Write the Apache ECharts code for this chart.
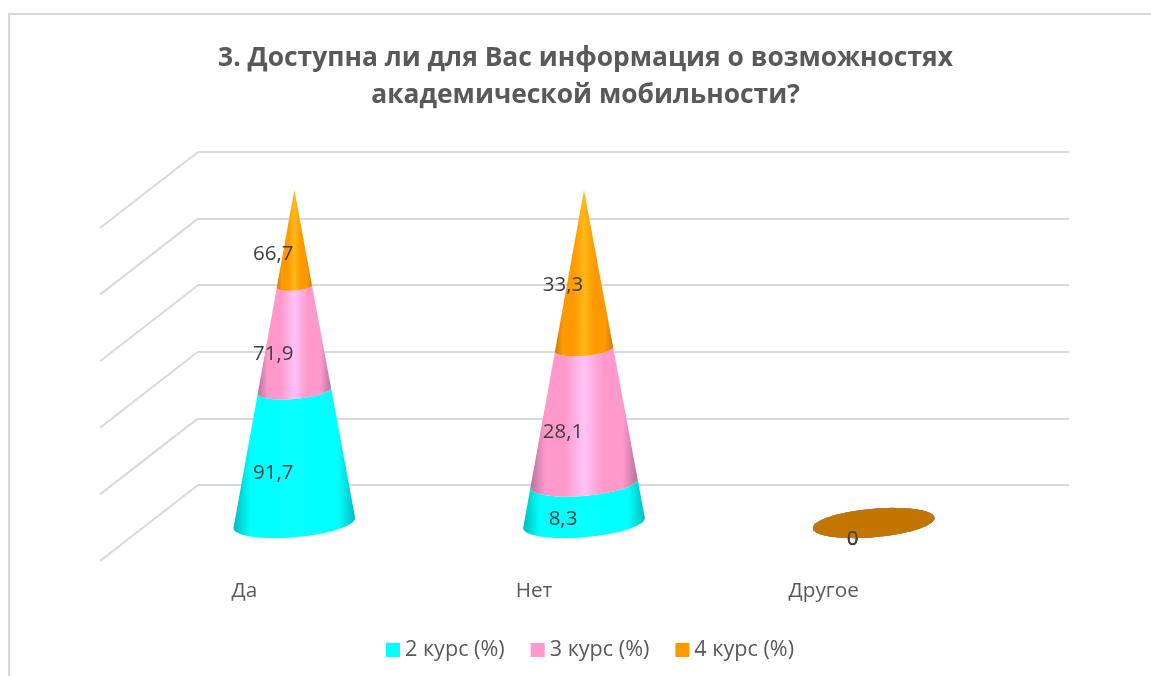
<!DOCTYPE html>
<html lang="ru">

<head>
  <meta charset="UTF-8">
  <title>Доступность информации</title>
  <script src="https://cdn.jsdelivr.net/npm/echarts@6/dist/echarts.min.js"></script>
  <style>
    html, body { margin: 0; padding: 0; background: #fff; }
    #chart { width: 1151px; height: 676px; }
  </style>
</head>

<body>
  <div id="chart"></div>
  <script>
    var categories = ['Да', 'Нет', 'Другое']
    var course2 = [91.7, 8.3, 0]
    var course3 = [71.9, 28.1, 0]
    var course4 = [66.7, 33.3, 0]
    var seriesNames = ['2 курс (%)', '3 курс (%)', '4 курс (%)']
    var yTicks = [0, 20, 40, 60, 80, 100]

    var fontName = '"Open Sans", "Noto Sans", sans-serif'
    var gridColor = '#d9d9d9'
    // base, edge, highlight, flat disc
    var palette = [
      ['#00ffff', '#00bcbc', '#0affff', '#00b8b8'],
      ['#ff99cc', '#b8729a', '#ffc2f4', '#b86d92'],
      ['#ff9900', '#cc7f00', '#ffb818', '#c27500']
    ]
    var rows = [course2, course3, course4]

    // 100% stacked, each cone piece runs from start to end percent
    function stackedData(s) {
      return categories.map(function (c, i) {
        var total = course2[i] + course3[i] + course4[i]
        var before = 0
        for (var k = 0; k < s; k++) before += rows[k][i]
        var start = total ? before / total * 100 : 0
        var end = total ? (before + rows[s][i]) / total * 100 : 0
        return [i, start, end, rows[s][i]]
      })
    }

    // front half of the tilted ring at a given height
    function frontArc(cx, cy, a, reverse) {
      var pts = []
      var n = 40
      for (var j = 0; j <= n; j++) {
        var t = Math.PI * (reverse ? j / n : 1 - j / n)
        pts.push([cx + a * Math.cos(t), cy - 0.082 * a * Math.cos(t) + a * 0.235 * Math.sin(t)])
      }
      return pts
    }

    function coneItem(s) {
      return function (params, api) {
        var i = api.value(0)
        var start = api.value(1)
        var end = api.value(2)
        var raw = api.value(3)
        var bottom = api.coord([i, 0])
        var low = api.coord([i, start])
        var high = api.coord([i, end])
        var mid = api.coord([i, (start + end) / 2])
        var radius = api.size([1, 0])[0] * 0.21
        var c = palette[s]
        var shape
        if (start === end) {
          // zero values collapse into a flat disc on the floor
          var top = frontArc(bottom[0], bottom[1], radius, false)
          var under = top.map(function (p) {
            return [2 * bottom[0] - p[0], 2 * bottom[1] - p[1]]
          })
          shape = {
            type: 'polygon',
            shape: { points: top.concat(under) },
            style: { fill: c[3] }
          }
        } else {
          var pts = frontArc(low[0], low[1], radius * (1 - start / 100), false)
          pts = pts.concat(frontArc(high[0], high[1], radius * (1 - end / 100), true))
          shape = {
            type: 'polygon',
            shape: { points: pts },
            style: {
              fill: new echarts.graphic.LinearGradient(0, 0, 1, 0, [
                { offset: 0, color: c[1] },
                { offset: 0.14, color: c[0] },
                { offset: 0.32, color: c[0] },
                { offset: 0.5, color: c[2] },
                { offset: 0.68, color: c[0] },
                { offset: 0.86, color: c[0] },
                { offset: 1, color: c[1] }
              ])
            }
          }
        }
        return {
          type: 'group',
          children: [shape, {
            type: 'text',
            z2: 10,
            style: {
              x: mid[0] - 21,
              y: mid[1] + 16,
              text: String(raw).replace('.', ','),
              fill: '#404040',
              font: '20.5px ' + fontName,
              align: 'center',
              verticalAlign: 'middle'
            }
          }]
        }
      }
    }

    var mCharts = echarts.init(document.getElementById('chart'))
    var series = seriesNames.map(function (name, s) {
      return {
        name: name,
        type: 'custom',
        xAxisIndex: 1,
        yAxisIndex: 1,
        z: 5 + s,
        itemStyle: { color: palette[s][0] },
        renderItem: coneItem(s),
        encode: { x: 0, y: [1, 2] },
        data: stackedData(s)
      }
    })
    // side wall lines, one from each tick of the back wall
    series.unshift({
      name: 'wall',
      type: 'custom',
      xAxisIndex: 0,
      yAxisIndex: 0,
      z: 1,
      renderItem: function (params, api) {
        var p = api.coord([0, api.value(0)])
        var x = params.coordSys.x
        return {
          type: 'line',
          shape: { x1: x, y1: p[1], x2: x - 98, y2: p[1] + 76 },
          style: { stroke: gridColor, lineWidth: 2 }
        }
      },
      encode: { y: 0 },
      data: yTicks.map(function (t) { return [t] })
    })

    var option = {
      animation: false,
      title: {
        text: '3. Доступна ли для Вас информация о возможностях\nакадемической мобильности?',
        left: 580.5,
        top: 35,
        textAlign: 'center',
        textStyle: {
          color: '#595959',
          fontSize: 26.4,
          fontWeight: 'bold',
          fontFamily: fontName,
          lineHeight: 37
        }
      },
      legend: {
        data: seriesNames,
        left: 381,
        top: 634,
        icon: 'rect',
        itemWidth: 14,
        itemHeight: 14,
        itemGap: 26,
        textStyle: { color: '#595959', fontSize: 21.6, fontFamily: fontName }
      },
      // back wall, plane through the cones, front edge of the floor
      grid: [
        { left: 198, width: 871, top: 152, height: 333 },
        { left: 149.5, width: 869, top: 190, height: 333 },
        { left: 99.5, width: 869, top: 228, height: 333 }
      ],
      xAxis: [
        { gridIndex: 0, type: 'category', data: categories, show: false },
        { gridIndex: 1, type: 'category', data: categories, show: false },
        {
          gridIndex: 2,
          type: 'category',
          data: categories,
          axisLine: { show: false },
          axisTick: { show: false },
          axisLabel: { margin: 20, color: '#595959', fontSize: 20.7, fontFamily: fontName }
        }
      ],
      yAxis: [
        {
          gridIndex: 0,
          type: 'value',
          min: 0,
          max: 100,
          interval: 20,
          axisLine: { show: false },
          axisTick: { show: false },
          axisLabel: { show: false },
          splitLine: { lineStyle: { color: gridColor, width: 2 } }
        },
        { gridIndex: 1, type: 'value', min: 0, max: 100, show: false },
        { gridIndex: 2, type: 'value', min: 0, max: 100, show: false, splitLine: { show: false } }
      ],
      graphic: [{
        type: 'polyline',
        silent: true,
        shape: { points: [[9, 676], [9, 14], [1151, 14]] },
        style: { stroke: gridColor, lineWidth: 2, fill: null }
      }],
      series: series
    }
    mCharts.setOption(option)
  </script>
</body>

</html>
